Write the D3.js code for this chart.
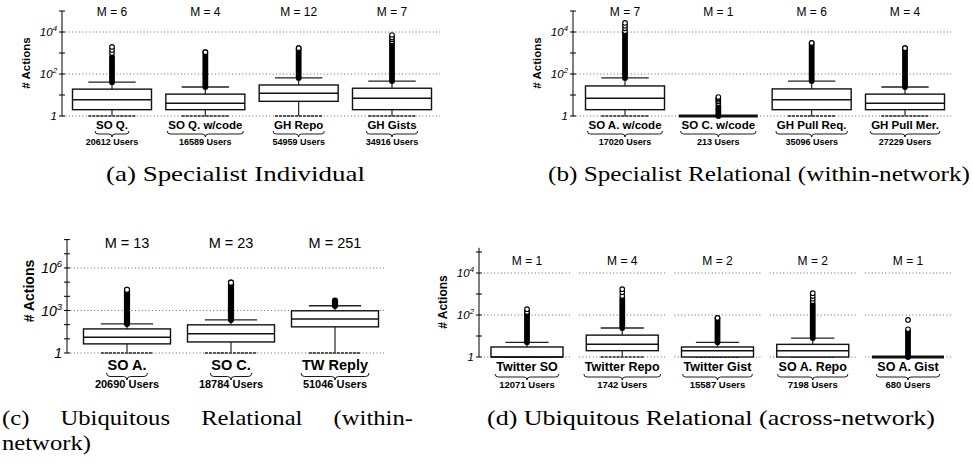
<!DOCTYPE html>
<html><head><meta charset="utf-8">
<script src="https://cdn.jsdelivr.net/npm/d3@7"></script>
<style>
html,body{margin:0;padding:0;background:#fff;}
svg{display:block;}
text{font-family:"Liberation Sans",Arial,Helvetica,sans-serif;fill:#000;}
text.cap{font-family:"Liberation Serif","Times New Roman",serif;}
</style></head><body>
<svg id="fig" width="973" height="466"></svg>
<script>
// ---------- (a) Specialist Individual ----------
const catsA   = ["SO Q.", "SO Q. w/code", "GH Repo", "GH Gists"];
const usersA  = [20612, 16589, 54959, 34916];
const medA    = [6, 4, 12, 7];
const q1A     = [2, 2, 5, 2];
const q3A     = [19, 11, 30, 21];
const loA     = [1, 1, 1, 1];
const hiA     = [41, 24, 65, 46];
const outTopA = [650, 1100, 1700, 3000];
const outPtsA = [[1000, 1400, 1950], [1100], [1700], [3500, 4500, 5500, 7200]];

// ---------- (b) Specialist Relational (within-network) ----------
const catsB   = ["SO A. w/code", "SO C. w/code", "GH Pull Req.", "GH Pull Mer."];
const usersB  = [17020, 213, 35096, 27229];
const medB    = [7, 1, 6, 4];
const q1B     = [2, 1, 2, 2];
const q3B     = [27, 1, 19.5, 11];
const loB     = [1, 1, 1, 1];
const hiB     = [65, 1, 46, 24];
const outTopB = [9000, 3, 3000, 1700];
const outPtsB = [[11000, 15000, 20000, 27000], [4, 5, 6, 7, 8], [3000], [1700]];

// ---------- (c) Ubiquitous Relational (within-network) ----------
const catsC   = ["SO A.", "SO C.", "TW Reply"];
const usersC  = [20690, 18784, 51046];
const medC    = [13, 23, 251];
const q1C     = [4.4, 6, 70];
const q3C     = [50, 97, 950];
const loC     = [1, 1, 1];
const hiC     = [115, 220, 2150];
const outTopC = [29000, 92000, 4900];
const outPtsC = [[29000], [92000], []];

// ---------- (d) Ubiquitous Relational (across-network) ----------
const catsD   = ["Twitter SO", "Twitter Repo", "Twitter Gist", "SO A. Repo", "SO A. Gist"];
const usersD  = [12071, 1742, 15587, 7198, 680];
const medD    = [1, 4, 2, 2, 1];
const q1D     = [1, 2, 1, 1, 1];
const q3D     = [3, 11, 3, 4, 1];
const loD     = [1, 1, 1, 1, 1];
const hiD     = [5, 24, 5, 8, 1];
const outTopD = [140, 580, 72, 330, 17];
const outPtsD = [[140, 190], [800, 1200, 1700], [72], [450, 600, 800, 1100], [21, 58]];

// axis tick values
const majorAB = [1, 1e2, 1e4], minorAB = [10, 1e3, 1e5];
const majorC  = [1, 1e3, 1e6], minorC  = [10, 100, 1e4, 1e5, 1e7, 1e8];

const svg = d3.select("#fig");

function bracePath(cx, y0, w, h) {
  const x0 = cx - w / 2, x1 = cx + w / 2, r = h / 2;
  return `M${x0},${y0} Q${x0},${y0 + r} ${x0 + r},${y0 + r} L${cx - r},${y0 + r} ` +
         `Q${cx},${y0 + r} ${cx},${y0 + h} Q${cx},${y0 + r} ${cx + r},${y0 + r} ` +
         `L${x1 - r},${y0 + r} Q${x1},${y0 + r} ${x1},${y0}`;
}

function drawPanel(p) {
  const g = svg.append("g");
  const y = d3.scaleLog().domain([1, p.yMax]).range([p.y0, p.yTop]);
  const x = d3.scalePoint().domain(p.cats).range(p.xRange);
  const bw = p.boxW, capW = bw * 0.6;
  const rows = p.cats.map((c, i) => ({
    c, users: p.users[i], med: p.med[i], q1: p.q1[i], q3: p.q3[i],
    lo: p.lo[i], hi: p.hi[i], outTop: p.outTop[i], pts: p.pts[i]
  }));

  // dotted gridlines at labelled ticks
  p.major.forEach(v => {
    if (p.segmented) {
      const half = (x.step() - 9) / 2;
      rows.forEach(r => g.append("line")
        .attr("x1", Math.max(p.axisX, x(r.c) - half)).attr("x2", x(r.c) + half)
        .attr("y1", y(v)).attr("y2", y(v))
        .attr("stroke", "#666").attr("stroke-width", 1).attr("stroke-dasharray", "1,2.4"));
    } else {
      g.append("line").attr("x1", p.axisX).attr("x2", p.gridEnd)
        .attr("y1", y(v)).attr("y2", y(v))
        .attr("stroke", "#666").attr("stroke-width", 1).attr("stroke-dasharray", "1,2.4");
    }
  });

  // y axis
  g.append("line").attr("x1", p.axisX).attr("x2", p.axisX)
    .attr("y1", y(1)).attr("y2", p.yTop).attr("stroke", "#000").attr("stroke-width", 1);
  p.major.concat(p.minor).forEach(v => {
    g.append("line").attr("x1", p.axisX - 3).attr("x2", p.axisX + 3)
      .attr("y1", y(v)).attr("y2", y(v)).attr("stroke", "#000").attr("stroke-width", 1);
  });
  p.major.forEach(v => {
    const t = g.append("text").attr("x", p.axisX - 5).attr("y", y(v) + p.tickFs * 0.36)
      .attr("text-anchor", "end").attr("font-style", "italic")
      .attr("font-size", p.tickFs).attr("fill", "#222");
    if (v === 1) t.text("1");
    else {
      t.append("tspan").text("10");
      t.append("tspan").attr("font-size", p.tickFs * 0.68).attr("dy", -p.tickFs * 0.42)
        .text(Math.round(Math.log10(v)));
    }
  });
  g.append("text").attr("transform", `translate(${p.yLabX},${p.yLabY}) rotate(-90)`)
    .attr("text-anchor", "middle").attr("font-weight", "bold").attr("font-size", p.yLabFs)
    .text("# Actions");

  // boxes
  rows.forEach(r => {
    const cx = x(r.c);
    // lower whisker
    if (r.q1 > r.lo) {
      g.append("line").attr("x1", cx).attr("x2", cx).attr("y1", y(r.q1)).attr("y2", y(r.lo))
        .attr("stroke", "#222").attr("stroke-width", 1.2);
    }
    g.append("line").attr("x1", cx - capW / 2).attr("x2", cx + capW / 2)
      .attr("y1", y(r.lo)).attr("y2", y(r.lo))
      .attr("stroke", "#555").attr("stroke-width", 2).attr("stroke-dasharray", "3,1");
    // upper whisker
    if (r.hi > r.q3) {
      g.append("line").attr("x1", cx).attr("x2", cx).attr("y1", y(r.q3)).attr("y2", y(r.hi))
        .attr("stroke", "#222").attr("stroke-width", 1.2);
      g.append("line").attr("x1", cx - capW / 2).attr("x2", cx + capW / 2)
        .attr("y1", y(r.hi)).attr("y2", y(r.hi)).attr("stroke", "#222").attr("stroke-width", 1.3);
    }
    const collapsed = r.q3 <= r.q1;
    g.append("rect").attr("x", cx - bw / 2).attr("width", bw)
      .attr("y", y(r.q3)).attr("height", Math.max(0, y(r.q1) - y(r.q3)))
      .attr("fill", collapsed ? "none" : "#fff")
      .attr("stroke", "#111").attr("stroke-width", collapsed ? 3 : 1.4);
    g.append("line").attr("x1", cx - bw / 2).attr("x2", cx + bw / 2)
      .attr("y1", y(r.med)).attr("y2", y(r.med))
      .attr("stroke", "#111").attr("stroke-width", collapsed ? 3 : 1.5);

    // outliers: dense run of overlapping markers, then separate markers
    g.append("line").attr("x1", cx).attr("x2", cx)
      .attr("y1", y(r.hi)).attr("y2", y(r.outTop))
      .attr("stroke", "#000").attr("stroke-width", p.dotR * 2 + 1.2).attr("stroke-linecap", "round");
    r.pts.forEach(v => g.append("circle").attr("cx", cx).attr("cy", y(v)).attr("r", p.dotR)
      .attr("fill", "#fff").attr("stroke", "#000").attr("stroke-width", 1.1));

    // median annotation
    g.append("text").attr("x", cx).attr("y", p.mY).attr("text-anchor", "middle")
      .attr("font-size", p.mFs).text(`M = ${r.med}`);
    // category label, brace and user count
    const lab = g.append("text").attr("x", cx).attr("y", p.catY).attr("text-anchor", "middle")
      .attr("font-weight", "bold").attr("font-size", p.catFs).text(r.c);
    const lw = lab.node().getComputedTextLength();
    g.append("path").attr("d", bracePath(cx, p.braceY, lw + 2, p.braceH))
      .attr("fill", "none").attr("stroke", "#000").attr("stroke-width", 0.9);
    g.append("text").attr("x", cx).attr("y", p.usersY).attr("text-anchor", "middle")
      .attr("font-weight", "bold").attr("font-size", p.usersFs).text(`${r.users} Users`);
  });
}

const common = { tickFs: 11.5, yLabFs: 11.5, mFs: 12, dotR: 2.3 };

drawPanel(Object.assign({}, common, {
  cats: catsA, users: usersA, med: medA, q1: q1A, q3: q3A, lo: loA, hi: hiA,
  outTop: outTopA, pts: outPtsA, yMax: 1e5, y0: 116, yTop: 11,
  axisX: 62, xRange: [112, 392], boxW: 79, gridEnd: 440,
  major: majorAB, minor: minorAB, yLabX: 30, yLabY: 63,
  mY: 16, catY: 129, catFs: 11.5, braceY: 131, braceH: 6, usersY: 145, usersFs: 9
}));
drawPanel(Object.assign({}, common, {
  cats: catsB, users: usersB, med: medB, q1: q1B, q3: q3B, lo: loB, hi: hiB,
  outTop: outTopB, pts: outPtsB, yMax: 1e5, y0: 116, yTop: 11,
  axisX: 573, xRange: [625, 905], boxW: 79, gridEnd: 952,
  major: majorAB, minor: minorAB, yLabX: 541, yLabY: 63,
  mY: 16, catY: 129, catFs: 11.5, braceY: 131, braceH: 6, usersY: 145, usersFs: 9
}));
drawPanel(Object.assign({}, common, {
  cats: catsC, users: usersC, med: medC, q1: q1C, q3: q3C, lo: loC, hi: hiC,
  outTop: outTopC, pts: outPtsC, yMax: 1e8, y0: 353, yTop: 239.6,
  axisX: 67, xRange: [127, 335], boxW: 87, gridEnd: 384,
  major: majorC, minor: minorC, yLabX: 34, yLabY: 291,
  tickFs: 14, yLabFs: 14, mFs: 14.5, dotR: 2.5,
  mY: 248, catY: 370, catFs: 14.5, braceY: 373, braceH: 7, usersY: 388, usersFs: 11
}));
drawPanel(Object.assign({}, common, {
  cats: catsD, users: usersD, med: medD, q1: q1D, q3: q3D, lo: loD, hi: hiD,
  outTop: outTopD, pts: outPtsD, yMax: Math.pow(10, 5.2), y0: 357, yTop: 247.8,
  axisX: 479, xRange: [527, 908], boxW: 72, gridEnd: 950, segmented: true,
  major: majorAB, minor: minorAB, yLabX: 447, yLabY: 302, yLabFs: 12,
  mY: 265, catY: 371, catFs: 12.5, braceY: 374, braceH: 6, usersY: 388, usersFs: 9.5
}));

// sub-figure captions
function caption(str, x0, x1, yb) {
  svg.append("text").attr("class", "cap").attr("x", x0).attr("y", yb)
    .attr("font-size", 22).attr("textLength", x1 - x0).attr("lengthAdjust", "spacingAndGlyphs")
    .text(str);
}
caption("(a) Specialist Individual", 106, 365, 181);
caption("(b) Specialist Relational (within-network)", 548, 970, 181);
caption("(d) Ubiquitous Relational (across-network)", 487, 935, 425);

// justified first line of caption (c)
(function () {
  const words = ["(c)", "Ubiquitous", "Relational", "(within-"];
  const left = 2, right = 413, yb = 425;
  const nodes = words.map(w => svg.append("text").attr("class", "cap")
    .attr("font-size", 22).attr("y", yb).text(w));
  const widths = nodes.map(n => n.node().getComputedTextLength() * 1.12);
  const gap = (right - left - d3.sum(widths)) / (words.length - 1);
  let xx = left;
  nodes.forEach((n, i) => {
    n.attr("x", xx).attr("textLength", widths[i]).attr("lengthAdjust", "spacingAndGlyphs");
    xx += widths[i] + gap;
  });
  const n2 = svg.append("text").attr("class", "cap").attr("font-size", 22)
    .attr("x", left).attr("y", 450).text("network)");
  n2.attr("textLength", n2.node().getComputedTextLength() * 1.12)
    .attr("lengthAdjust", "spacingAndGlyphs");
})();
</script>
</body></html>
